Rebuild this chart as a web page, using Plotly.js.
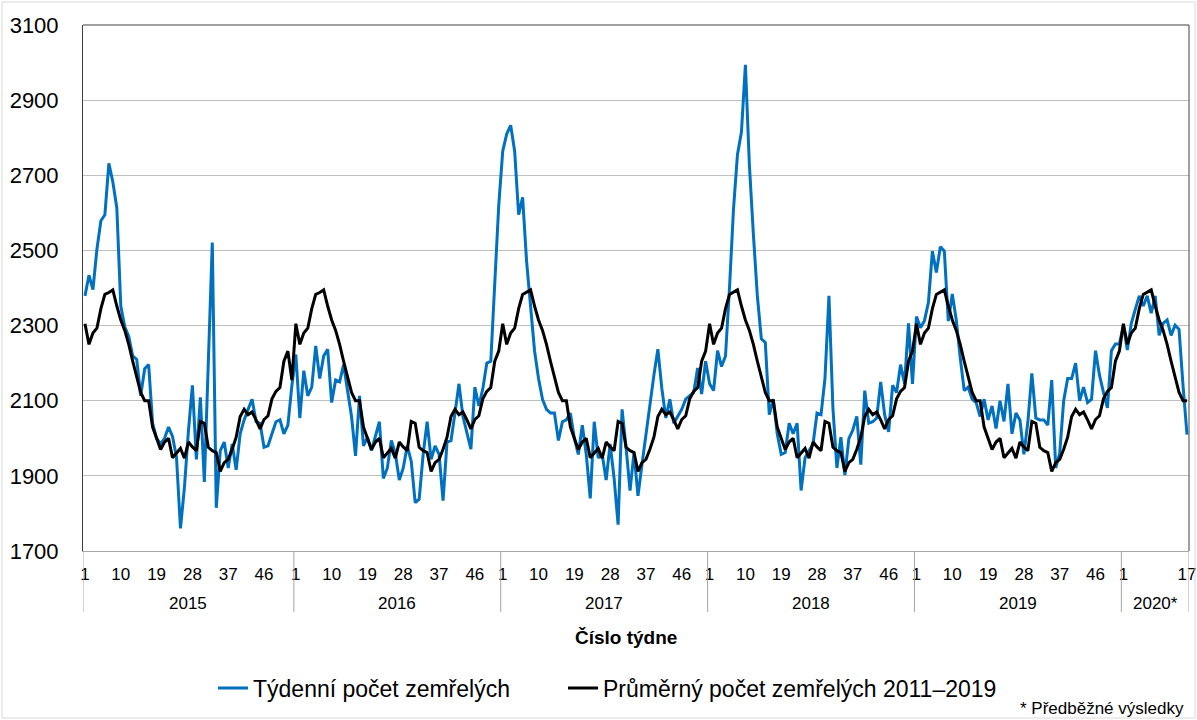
<!DOCTYPE html>
<html><head><meta charset="utf-8">
<script src="https://cdn.plot.ly/plotly-3.0.1.min.js"></script>
<style>html,body{margin:0;padding:0;background:#fff}#chart{width:1197px;height:720px}</style>
</head><body><div id="chart"></div>
<script>
const years = ['2015','2016','2017','2018','2019','2020*'];
const weeksInYear = [53, 52, 52, 52, 52, 17];
const labelWeeks = [
  [1,10,19,28,37,46],[1,10,19,28,37,46],[1,10,19,28,37,46],
  [1,10,19,28,37,46],[1,10,19,28,37,46],[1,17]
];
const seriesNames = ['Týdenní počet zemřelých', 'Průměrný počet zemřelých 2011–2019'];

const deaths2015 = [2379,2434,2396,2503,2579,2595,2732,2682,2613,2352,2297,2271,2219,2210,2113,2185,2196,2040,2000,1985,2000,2030,2005,1950,1760,1870,2020,2141,1944,2109,1884,2190,2521,1815,1967,1990,1921,1985,1916,2012,2049,2077,2104,2044,2040,1976,1980,2012,2044,2049,2012,2035,2140];
const deaths2016 = [2223,2054,2180,2113,2136,2246,2159,2219,2237,2095,2155,2150,2196,2122,2058,1953,2113,1980,2003,1967,2008,2044,1893,1921,1994,1960,1889,1921,1980,1939,1829,1838,1957,2044,1944,1980,1957,1834,1990,1994,2067,2145,2058,2012,1971,2136,2086,2132,2200,2205,2430,2620];
const deaths2017 = [2764,2810,2833,2764,2595,2641,2471,2352,2233,2159,2104,2077,2067,2067,1994,2044,2049,2067,2000,1957,2035,1957,1840,2044,1948,1957,1889,1985,1893,1770,2077,1976,1861,1962,1847,1930,2012,2095,2168,2237,2132,2054,2104,2040,2058,2077,2104,2113,2122,2187,2118,2205];
const deaths2018 = [2145,2127,2233,2191,2219,2400,2609,2755,2815,2994,2728,2544,2379,2265,2255,2063,2104,2012,1957,1962,2040,2012,2040,1861,1948,1967,1985,2067,2063,2159,2379,2080,1921,2003,1902,1999,2022,2058,1930,2127,2040,2044,2054,2150,2063,2017,2141,2122,2196,2145,2306,2145];
const deaths2019 = [2324,2294,2313,2361,2498,2441,2510,2498,2312,2384,2315,2214,2127,2136,2104,2095,2058,2104,2049,2086,2026,2100,2045,2145,2012,2067,2049,1957,2044,2173,2054,2049,2049,2035,2155,1921,1960,2100,2159,2159,2200,2100,2136,2095,2104,2233,2168,2122,2081,2233,2251,2251];
const deaths2020 = [2300,2235,2306,2343,2379,2352,2379,2333,2379,2274,2306,2315,2274,2301,2290,2140,2010];
const avgByWeek = [2305,2250,2280,2293,2345,2383,2388,2395,2352,2315,2287,2250,2205,2160,2122,2100,2100,2030,2000,1970,1990,2000,1948,1962,1973,1947,1990,1977,1967,2045,2040,1976,1967,1962,1912,1935,1944,1971,2003,2058,2077,2063,2070,2049,2025,2050,2060,2105,2125,2135,2205,2232,2155];

const deathsByYear = [deaths2015, deaths2016, deaths2017, deaths2018, deaths2019, deaths2020];

const xs = [], yDeaths = [], yAvg = [], tickvals = [], ticktext = [], bounds = [], centers = [];
let idx = 0;
years.forEach((yr, i) => {
  const start = idx;
  for (let w = 1; w <= weeksInYear[i]; w++) {
    xs.push(idx);
    yDeaths.push(deathsByYear[i][w - 1]);
    yAvg.push(avgByWeek[w - 1]);
    if (labelWeeks[i].includes(w)) { tickvals.push(idx); ticktext.push(String(w)); }
    idx++;
  }
  bounds.push(start - 0.5);
  centers.push((start + idx - 1) / 2);
});
bounds.push(idx - 0.5);

const PL = 83, PR = 1189, PT = 25, PB = 551, W = 1197, H = 720;
const pw = PR - PL, ph = PB - PT;
const px2x = p => (p - PL) / pw;
const px2y = p => (PB - p) / ph;

const traces = [
  {x: xs, y: yDeaths, type: 'scatter', mode: 'lines', name: seriesNames[0],
   line: {color: '#0070C0', width: 3}, legend: 'legend'},
  {x: xs, y: yAvg, type: 'scatter', mode: 'lines', name: seriesNames[1],
   line: {color: '#000000', width: 3}, legend: 'legend2'}
];

const shapes = [];
bounds.forEach(b => shapes.push({type: 'line', xref: 'x', yref: 'paper', x0: b, x1: b,
  y0: 0, y1: px2y(612), line: {color: '#a6a6a6', width: 1}}));
shapes.push({type: 'line', xref: 'paper', yref: 'paper', x0: 0, x1: 1, y0: 1, y1: 1, line: {color: '#404040', width: 1}});
shapes.push({type: 'line', xref: 'paper', yref: 'paper', x0: 1, x1: 1, y0: 0, y1: 1, line: {color: '#404040', width: 1}});
shapes.push({type: 'rect', xref: 'paper', yref: 'paper', x0: px2x(2), x1: px2x(1195), y0: px2y(718), y1: px2y(2),
  line: {color: '#d9d9d9', width: 1}});

const annotations = years.map((yr, i) => ({
  x: centers[i], xref: 'x', y: px2y(603), yref: 'paper', text: yr, showarrow: false,
  font: {size: 17, color: '#000'}, xanchor: 'center', yanchor: 'middle'
}));
annotations.push({x: px2x(626), xref: 'paper', y: px2y(637), yref: 'paper', text: '<b>Číslo týdne</b>',
  showarrow: false, font: {size: 19, color: '#000'}, xanchor: 'center', yanchor: 'middle'});
annotations.push({x: px2x(1186), xref: 'paper', y: px2y(708), yref: 'paper', text: '* Předběžné výsledky',
  showarrow: false, font: {size: 17, color: '#000'}, xanchor: 'right', yanchor: 'middle'});

const legendBase = {orientation: 'h', xanchor: 'left', yanchor: 'middle', y: px2y(688),
  font: {size: 23, color: '#000'}, bgcolor: 'rgba(0,0,0,0)'};

const layout = {
  width: W, height: H,
  margin: {l: PL, r: W - PR, t: PT, b: H - PB, pad: 0},
  paper_bgcolor: '#fff', plot_bgcolor: '#fff',
  font: {family: '"Liberation Sans", Arial, sans-serif', color: '#000'},
  showlegend: true,
  legend: Object.assign({}, legendBase, {x: px2x(213)}),
  legend2: Object.assign({}, legendBase, {x: px2x(563)}),
  xaxis: {range: [-0.5, idx - 0.5], tickmode: 'array', tickvals: tickvals, ticktext: ticktext,
    tickfont: {size: 17}, showgrid: false, zeroline: false, showline: true,
    linecolor: '#a6a6a6', linewidth: 1, ticks: '', ticklabelstandoff: 8, fixedrange: true},
  yaxis: {range: [1700, 3100], tick0: 1700, dtick: 200, tickfont: {size: 22},
    gridcolor: '#bfbfbf', gridwidth: 1, showline: true, linecolor: '#404040', linewidth: 1,
    zeroline: false, ticks: '', ticklabelstandoff: 19, fixedrange: true},
  shapes: shapes,
  annotations: annotations
};

Plotly.newPlot('chart', traces, layout, {displayModeBar: false, staticPlot: true});
</script>
</body></html>
